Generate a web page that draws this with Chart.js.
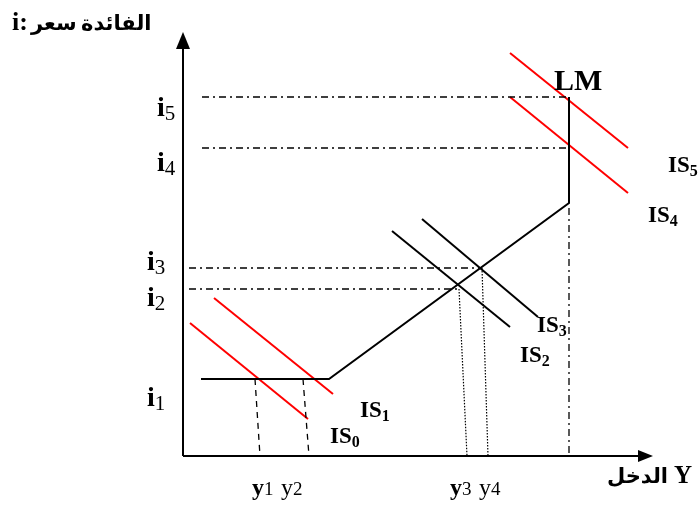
<!DOCTYPE html>
<html>
<head>
<meta charset="utf-8">
<script src="https://cdn.jsdelivr.net/npm/chart.js@4/dist/chart.umd.min.js"></script>
<style>
  body { margin: 0; background: #fff; }
  #box { width: 700px; height: 518px; }
</style>
</head>
<body>
<div id="box"><canvas id="islm-chart"></canvas></div>
<script>
// units: income Y to the right, interest i upwards, origin where the axes meet
const yAxisLine = [{x: 0, y: 0}, {x: 0, y: 409}];
const xAxisLine = [{x: 0, y: 0}, {x: 457, y: 0}];

// LM: liquidity trap, normal range, classical range
const lmCurve = [{x: 18, y: 77}, {x: 146, y: 77}, {x: 386, y: 253}, {x: 386, y: 359}];

// IS curves
const is0 = [{x: 7, y: 133}, {x: 125, y: 37}];
const is1 = [{x: 31, y: 158}, {x: 150, y: 62}];
const is2 = [{x: 209, y: 225}, {x: 327, y: 129}];
const is3 = [{x: 239, y: 237}, {x: 355, y: 139}];
const is4 = [{x: 327, y: 359}, {x: 445, y: 263}];
const is5 = [{x: 327, y: 403}, {x: 445, y: 308}];

// interest levels i2..i5 (dash-dot guides)
const i5Line = [{x: 19, y: 359}, {x: 386, y: 359}];
const i4Line = [{x: 19, y: 308}, {x: 386, y: 308}];
const i3Line = [{x: 6, y: 188}, {x: 299, y: 188}];
const i2Line = [{x: 6, y: 167}, {x: 275, y: 167}];

// drops to the income axis
const y1Drop = [{x: 72, y: 77}, {x: 77, y: 0}];
const y2Drop = [{x: 120, y: 77}, {x: 126, y: 0}];
const y3Drop = [{x: 276, y: 167}, {x: 284, y: 0}];
const y4Drop = [{x: 299, y: 188}, {x: 305, y: 0}];
const lmDrop = [{x: 386, y: 248}, {x: 386, y: 0}];

// labels on the interest axis
const iLabels = [
    {sub: '5', x: -26, y: 340},
    {sub: '4', x: -26, y: 285},
    {sub: '3', x: -36, y: 186},
    {sub: '2', x: -36, y: 150},
    {sub: '1', x: -36, y: 50}
];
// curve names
const isLabels = [
    {sub: '5', x: 485, y: 284},
    {sub: '4', x: 465, y: 234},
    {sub: '3', x: 354, y: 124},
    {sub: '2', x: 337, y: 94},
    {sub: '1', x: 177, y: 39},
    {sub: '0', x: 147, y: 13}
];

const RED = '#ff0000';
const BLACK = '#000000';
const SERIF = '"Liberation Serif", "Times New Roman", serif';
const ARABIC = '"DejaVu Sans", sans-serif';

function line(data, color, width, dash) {
    return {
        data: data,
        showLine: true,
        borderColor: color,
        borderWidth: width,
        borderDash: dash || [],
        pointRadius: 0,
        fill: false
    };
}

// text with a subscript, baseline at (px, py)
function subText(ctx, px, py, main, sub, mainFont, subFont, drop) {
    ctx.font = mainFont;
    ctx.fillText(main, px, py);
    const w = ctx.measureText(main).width;
    ctx.font = subFont;
    ctx.fillText(sub, px + w, py + drop);
}

const diagramText = {
    id: 'diagramText',
    afterDatasetsDraw(chart) {
        const ctx = chart.ctx;
        const xs = chart.scales.x;
        const ys = chart.scales.y;
        const px = v => xs.getPixelForValue(v);
        const py = v => ys.getPixelForValue(v);
        ctx.save();
        ctx.fillStyle = BLACK;
        ctx.textAlign = 'left';
        ctx.textBaseline = 'alphabetic';

        // arrow heads
        ctx.beginPath();
        ctx.moveTo(px(0), py(424));
        ctx.lineTo(px(0) - 7, py(407));
        ctx.lineTo(px(0) + 7, py(407));
        ctx.closePath();
        ctx.fill();
        ctx.beginPath();
        ctx.moveTo(px(470), py(0));
        ctx.lineTo(px(455), py(0) - 6);
        ctx.lineTo(px(455), py(0) + 6);
        ctx.closePath();
        ctx.fill();

        iLabels.forEach(l => subText(ctx, px(l.x), py(l.y), 'i', l.sub,
            'bold 28px ' + SERIF, '21px ' + SERIF, 4));
        isLabels.forEach(l => subText(ctx, px(l.x), py(l.y), 'IS', l.sub,
            'bold 23px ' + SERIF, 'bold 16px ' + SERIF, 4));

        ctx.font = 'bold 30px ' + SERIF;
        ctx.fillText('LM', px(371), py(366));

        // income labels
        subText(ctx, px(69), py(-39), 'y', '1', 'bold 24px ' + SERIF, '19px ' + SERIF, 0);
        subText(ctx, px(98), py(-39), 'y', '2', '24px ' + SERIF, '19px ' + SERIF, 0);
        subText(ctx, px(267), py(-39), 'y', '3', 'bold 24px ' + SERIF, '19px ' + SERIF, 0);
        subText(ctx, px(296), py(-39), 'y', '4', '24px ' + SERIF, '19px ' + SERIF, 0);

        // axis titles
        ctx.font = 'bold 25px ' + SERIF;
        ctx.fillText('Y', px(491), py(-27));
        ctx.font = 'bold 21px ' + ARABIC;
        ctx.textAlign = 'right';
        ctx.fillText('الدخل', px(485), py(-27));

        ctx.textAlign = 'left';
        ctx.font = 'bold 26px ' + SERIF;
        ctx.fillText('i:', px(-171), py(426));
        ctx.font = 'bold 21px ' + ARABIC;
        ctx.fillText('سعر', px(-152), py(426));
        ctx.fillText('الفائدة', px(-102), py(426));
        ctx.restore();
    }
};

function main() {
    const canvas = document.querySelector('#islm-chart');
    new Chart(canvas.getContext('2d'), {
        type: 'scatter',
        data: {
            datasets: [
                line(yAxisLine, BLACK, 2),
                line(xAxisLine, BLACK, 2),
                line(i5Line, BLACK, 1.3, [7, 4, 2, 4]),
                line(i4Line, BLACK, 1.3, [7, 4, 2, 4]),
                line(i3Line, BLACK, 1.3, [7, 4, 2, 4]),
                line(i2Line, BLACK, 1.3, [7, 4, 2, 4]),
                line(lmDrop, BLACK, 1.3, [7, 4, 2, 4]),
                line(y1Drop, BLACK, 1.3, [6, 5]),
                line(y2Drop, BLACK, 1.3, [6, 5]),
                line(y3Drop, BLACK, 1.2, [1.5, 1.5]),
                line(y4Drop, BLACK, 1.2, [1.5, 1.5]),
                line(lmCurve, BLACK, 2),
                line(is2, BLACK, 2),
                line(is3, BLACK, 2),
                line(is0, RED, 2),
                line(is1, RED, 2),
                line(is4, RED, 2),
                line(is5, RED, 2)
            ]
        },
        options: {
            responsive: true,
            maintainAspectRatio: false,
            animation: false,
            layout: {padding: 0},
            plugins: {legend: {display: false}, tooltip: {enabled: false}},
            scales: {
                x: {type: 'linear', display: false, min: -183, max: 517},
                y: {type: 'linear', display: false, min: -62, max: 456}
            }
        },
        plugins: [diagramText]
    });
}

main()
</script>
</body>
</html>
